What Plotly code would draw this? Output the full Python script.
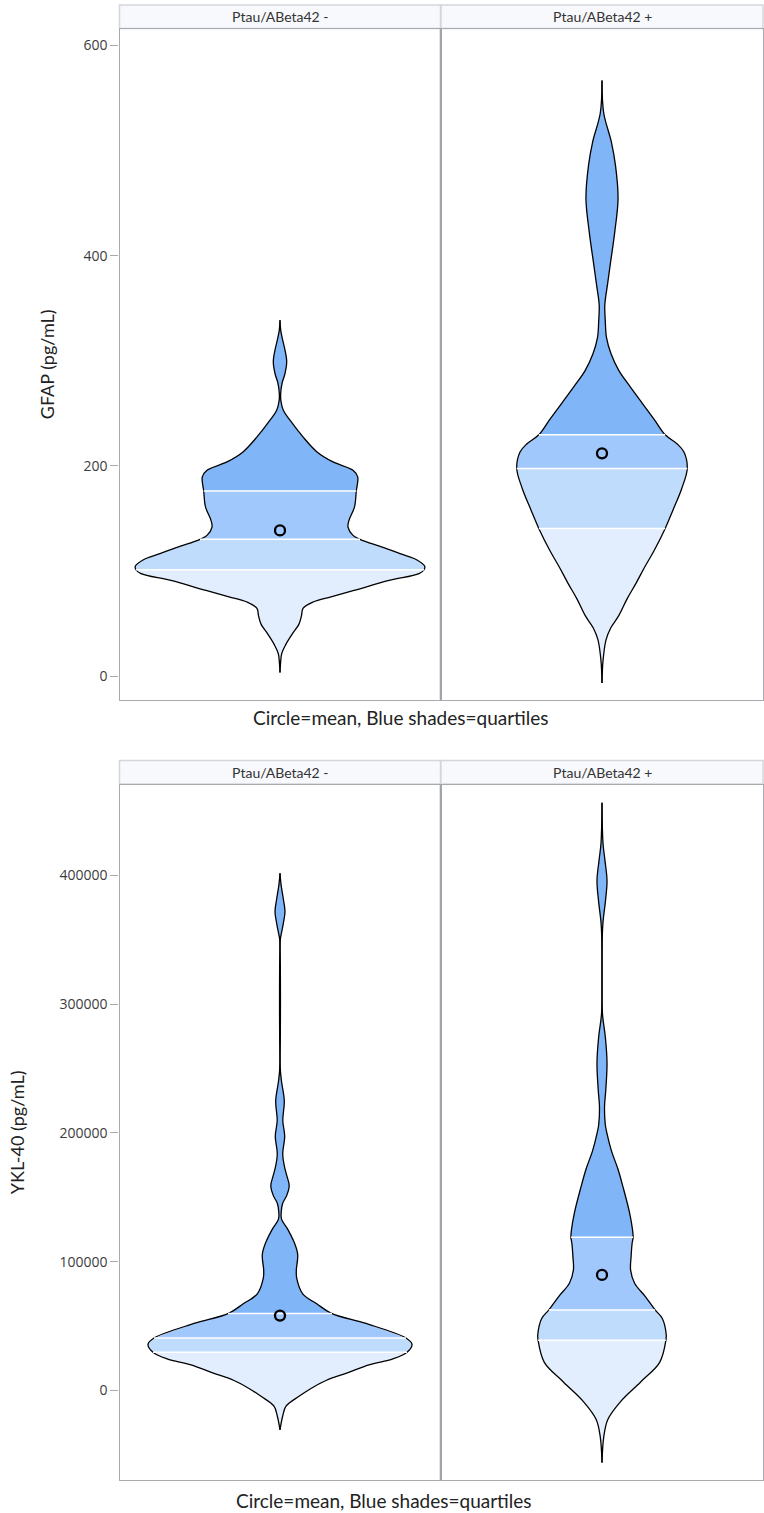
import plotly.graph_objects as go

# ---------------- data ----------------
GROUPS = ["Ptau/ABeta42 -", "Ptau/ABeta42 +"]
CAPTION = "Circle=mean, Blue shades=quartiles"

# GFAP (pg/mL): density profile (value, density) per group
GFAP_NEG_Y = [3.6, 11.6, 21.6, 30.6, 40.6, 49.6, 57.6, 64.6, 70.6, 75.6, 81.6, 91.1, 97.6,
              101.3, 104.6, 110.6, 116.6, 122.6, 130.2, 134.0, 141.9, 148.3, 161.0, 176.2,
              189.6, 195.9, 203.8, 213.3, 227.6, 243.5, 253.0, 262.6, 268.9, 278.4, 287.9,
              299.0, 310.2, 319.6, 329.2, 338.6]
GFAP_NEG_D = [0, 0.5, 1.7, 6, 12.5, 19, 21.5, 23, 33, 51, 74, 109, 139,
              144, 144.7, 137, 120, 103, 80, 73, 68, 69, 74.5, 76.3,
              77.7, 73, 53, 37, 23, 10, 3.3, 0.8, 0.7, 2, 5,
              6.7, 5, 2.7, 0.7, 0]
GFAP_POS_Y = [-6.4, 14.6, 34.6, 46.1, 57.6, 73.6, 88.6, 104.6, 119.6, 140.6, 158.6, 178.6,
              197.6, 213.2, 220.9, 229.6, 244.3, 259.8, 275.4, 290.9, 306.6, 322.0, 337.6,
              353.1, 372.6, 392.1, 423.1, 454.2, 485.4, 508.6, 535.6, 566.6]
GFAP_POS_D = [0, 1, 4, 8.8, 16.7, 25, 34, 43, 52, 63, 71, 79.5,
              85, 81.7, 75, 63, 52, 40, 28, 16.7, 9, 4.5, 3.3,
              2.8, 5.5, 8.3, 12.8, 16, 13.5, 9.2, 1.7, 0]
GFAP_QUARTILES = [[101.3, 130.2, 176.2], [140.6, 197.6, 229.6]]
GFAP_MEANS = [138.7, 212.0]

# YKL-40 (pg/mL)
YKL_NEG_Y = [-30600, -19900, -12200, -4600, 1500, 7700, 13800, 19900, 24500, 29700, 35800,
             40700, 52000, 59700, 67300, 75000, 87200, 93300, 105600, 114800, 125500,
             133100, 139200, 145400, 151500, 159100, 166800, 174400, 183600, 197400,
             209600, 224900, 240200, 250000, 350000, 353500, 362700, 371800, 381000,
             393300, 401800]
YKL_NEG_D = [0, 2.7, 6, 19, 31, 46, 68, 89, 113, 127, 132,
             126, 86, 52, 36.7, 22.7, 16.7, 16.3, 17.7, 14.3, 7.5,
             1.5, 1.3, 2.7, 6.8, 9.2, 6.8, 4.3, 2.7, 4.7,
             2.8, 4.3, 1.5, 0.3, 0.3, 1, 3.3, 5, 3.5,
             1, 0]
YKL_POS_Y = [-56100, -36300, -22600, -8900, 6400, 21800, 38900, 43400, 56000, 62500, 73100,
             83300, 93600, 103900, 114100, 118900, 124400, 138000, 158500, 172200, 185900,
             199500, 206400, 220000, 233700, 254200, 274700, 288400, 295200, 353300,
             363600, 380700, 396000, 411400, 425100, 456500]
YKL_POS_D = [0, 1.7, 5.8, 18.3, 38.3, 57.5, 63.7, 64, 60, 53, 43,
             32.5, 28.5, 29, 30, 31, 30.5, 27.5, 20.8, 15.8, 9.5,
             5, 3.3, 2.5, 3.8, 5, 3.3, 1, 0.3, 0.3,
             1, 3.5, 5, 3, 1, 0]
YKL_QUARTILES = [[29700, 40700, 59700], [38900, 62500, 118900]]
YKL_MEANS = [58100, 89700]

GFAP_TICKS = [0, 200, 400, 600]
YKL_TICKS = [0, 100000, 200000, 300000, 400000]

# ---------------- styling ----------------
W, H = 764, 1513
BAND_COLORS = ["#E2EEFE", "#C0DCFC", "#A0C8FC", "#80B6F8"]
FRAME = "#A7ABB0"
DMAX = 160.5  # half-width of a facet in density units

def px(x):
    return x / W

def py(y):
    return 1 - y / H

COLS = [(119.5, 440.5), (441.0, 763.0)]
ROWS = [(29.0, 699.5), (784.5, 1480.0)]
STRIPS = [(5.0, 28.5), (760.5, 784.0)]

fig = go.Figure()

panels = [
    dict(profiles=[(GFAP_NEG_Y, GFAP_NEG_D), (GFAP_POS_Y, GFAP_POS_D)], q=GFAP_QUARTILES,
         means=GFAP_MEANS, ticks=GFAP_TICKS, yrange=[-22.1, 615.5], title="GFAP (pg/mL)",
         title_x=47, cap_x=401, cap_y=718),
    dict(profiles=[(YKL_NEG_Y, YKL_NEG_D), (YKL_POS_Y, YKL_POS_D)], q=YKL_QUARTILES,
         means=YKL_MEANS, ticks=YKL_TICKS, yrange=[-69600, 470700], title="YKL-40 (pg/mL)",
         title_x=17, cap_x=384, cap_y=1500),
]

layout_axes = {}
annotations = []
shapes = []
ax_n = 0
for r, p in enumerate(panels):
    for c in range(2):
        ax_n += 1
        xa = "x" if ax_n == 1 else f"x{ax_n}"
        ya = "y" if ax_n == 1 else f"y{ax_n}"
        ys, ds = p["profiles"][c]
        q1, q2, q3 = p["q"][c]
        bounds = [ys[0], q1, q2, q3, ys[-1]]
        # quartile bands
        for b in range(4):
            lo, hi = bounds[b], bounds[b + 1]
            sel = [(y, d) for y, d in zip(ys, ds) if lo <= y <= hi]
            by = [s[0] for s in sel]
            bd = [s[1] for s in sel]
            fig.add_trace(go.Scatter(x=[-d for d in bd], y=by, mode="lines",
                                     line=dict(width=0, shape="spline"), xaxis=xa, yaxis=ya,
                                     hoverinfo="skip", showlegend=False))
            fig.add_trace(go.Scatter(x=bd, y=by, mode="lines", fill="tonextx",
                                     fillcolor=BAND_COLORS[b],
                                     line=dict(width=0, shape="spline"), xaxis=xa, yaxis=ya,
                                     hoverinfo="skip", showlegend=False))
        # outline
        for sgn in (-1, 1):
            fig.add_trace(go.Scatter(x=[sgn * d for d in ds], y=ys, mode="lines",
                                     line=dict(color="black", width=1.3, shape="spline"),
                                     xaxis=xa, yaxis=ya, hoverinfo="skip", showlegend=False))
        # quartile separators
        for qv in (q1, q2, q3):
            dq = ds[ys.index(qv)]
            fig.add_trace(go.Scatter(x=[-dq, dq], y=[qv, qv], mode="lines",
                                     line=dict(color="white", width=1.5),
                                     xaxis=xa, yaxis=ya, hoverinfo="skip", showlegend=False))
        # mean
        fig.add_trace(go.Scatter(x=[0], y=[p["means"][c]], mode="markers",
                                 marker=dict(symbol="circle-open", size=10, color="black",
                                             line=dict(width=2.3, color="black")),
                                 xaxis=xa, yaxis=ya, hoverinfo="skip", showlegend=False))

        x0, x1 = COLS[c]
        y0, y1 = ROWS[r]
        xkey = "xaxis" if ax_n == 1 else f"xaxis{ax_n}"
        ykey = "yaxis" if ax_n == 1 else f"yaxis{ax_n}"
        layout_axes[xkey] = dict(domain=[px(x0), px(x1)], anchor=ya, range=[-DMAX, DMAX],
                                 showgrid=False, zeroline=False, showticklabels=False,
                                 ticks="", showline=True, mirror=True, linecolor=FRAME,
                                 linewidth=1.3, fixedrange=True)
        yopts = dict(domain=[py(y1), py(y0)], anchor=xa, range=p["yrange"], showgrid=False,
                     zeroline=False, showline=True, mirror=True, linecolor=FRAME,
                     linewidth=1.3, tickvals=p["ticks"], tickformat="d", fixedrange=True)
        if c == 0:
            yopts.update(ticks="outside", ticklen=8, tickcolor=FRAME, tickwidth=1,
                         showticklabels=True,
                         tickfont=dict(family="Open Sans", size=14, color="#3C3C3C"))
        else:
            yopts.update(ticks="", showticklabels=False)
        layout_axes[ykey] = yopts

        # strip header
        s0, s1 = STRIPS[r]
        shapes.append(dict(type="rect", xref="paper", yref="paper", x0=px(x0), x1=px(x1),
                           y0=py(s1), y1=py(s0), fillcolor="#F8F9FD",
                           line=dict(color="#D3D6DB", width=1.5), layer="below"))
        annotations.append(dict(text=GROUPS[c], xref="paper", yref="paper",
                                x=px((x0 + x1) / 2), y=py((s0 + s1) / 2), showarrow=False,
                                xanchor="center", yanchor="middle",
                                font=dict(family="Lato", size=14, color="#333333")))

    # facet divider
    y0, y1 = ROWS[r]
    shapes.append(dict(type="line", xref="paper", yref="paper", x0=px(440.8), x1=px(440.8),
                       y0=py(y1), y1=py(y0), line=dict(color="#A0A4A9", width=2.2),
                       layer="above"))

    # axis title and caption
    annotations.append(dict(text=p["title"], xref="paper", yref="paper", x=px(p["title_x"]),
                            y=py((y0 + y1) / 2), textangle=-90, showarrow=False,
                            xanchor="center", yanchor="middle",
                            font=dict(family="Lato", size=18, color="#222222")))
    annotations.append(dict(text=CAPTION, xref="paper", yref="paper", x=px(p["cap_x"]),
                            y=py(p["cap_y"]), showarrow=False, xanchor="center",
                            yanchor="middle",
                            font=dict(family="Lato", size=19, color="#222222")))

fig.update_layout(width=W, height=H, margin=dict(l=0, r=0, t=0, b=0),
                  paper_bgcolor="white", plot_bgcolor="white", showlegend=False,
                  annotations=annotations, shapes=shapes, **layout_axes)

fig.write_html("out.html", config={"displayModeBar": False},
               post_script="document.body.style.margin='0';")
